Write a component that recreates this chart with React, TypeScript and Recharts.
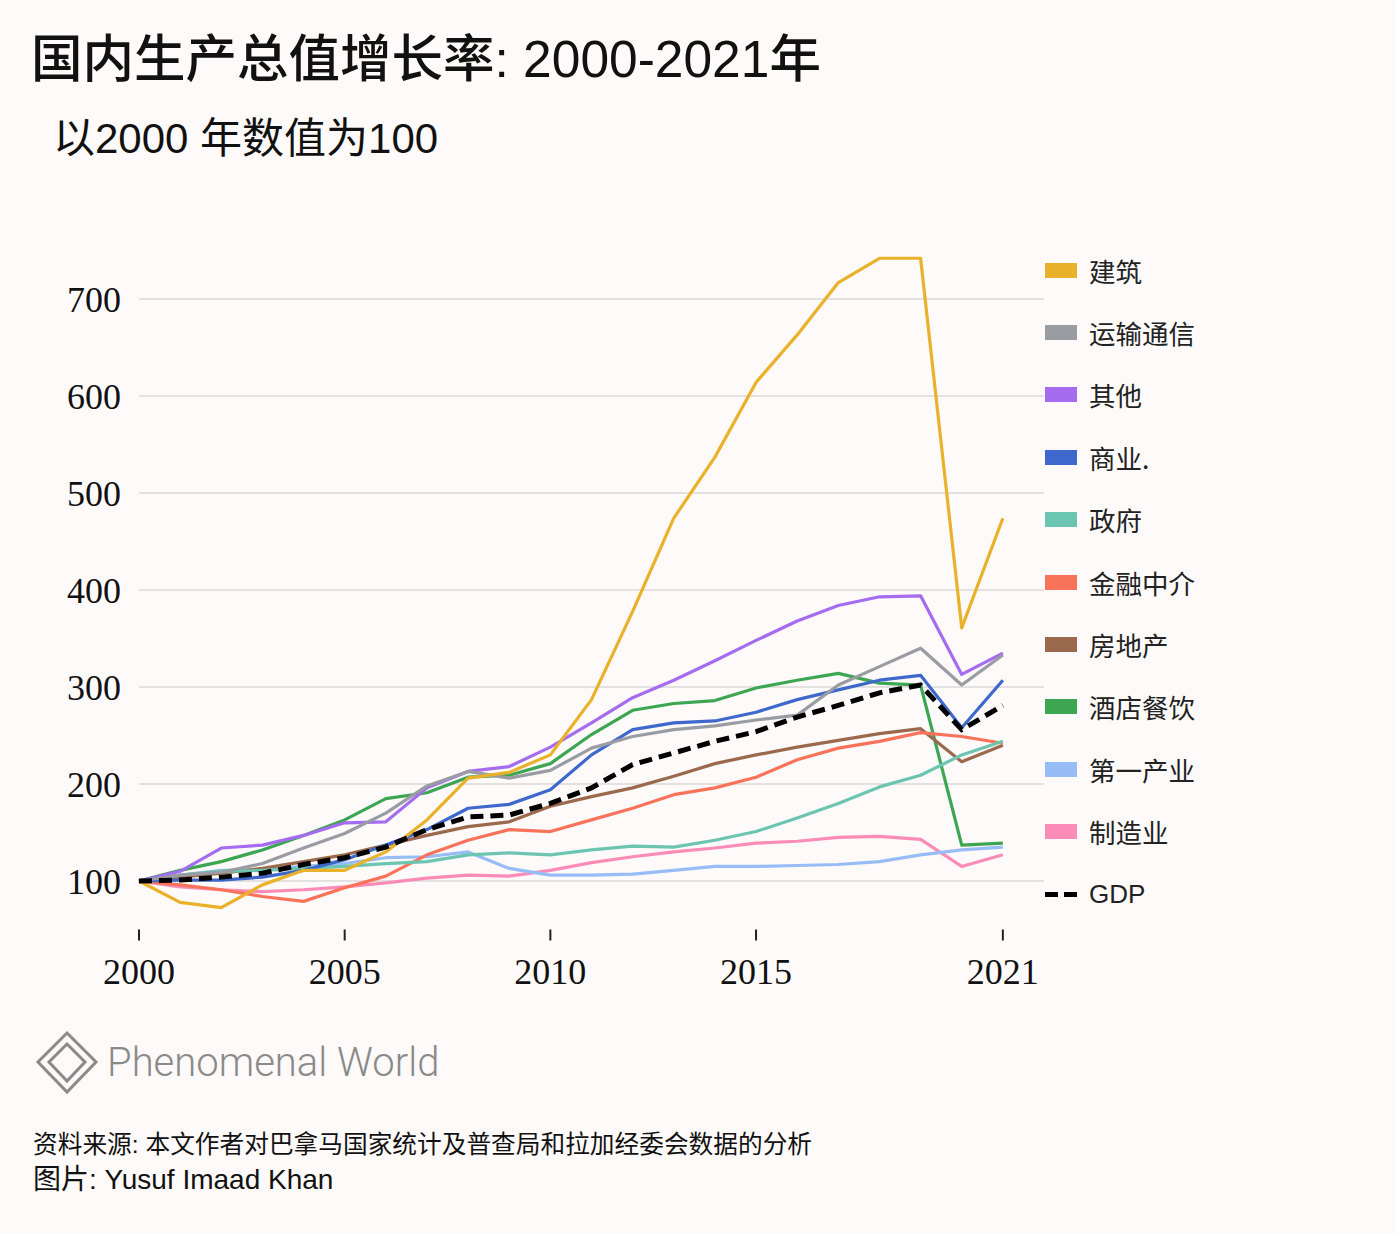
import React from 'react';
import { LineChart, Line, XAxis, YAxis, CartesianGrid } from 'recharts';

const years = [2000, 2001, 2002, 2003, 2004, 2005, 2006, 2007, 2008, 2009, 2010, 2011, 2012, 2013, 2014, 2015, 2016, 2017, 2018, 2019, 2020, 2021];

const construction = [100, 78, 72.5, 96, 111, 111, 130, 163, 206, 212, 230, 287, 378, 474, 537, 614, 663, 717, 742, 742, 361, 474];
const transport = [100, 106, 109, 118, 134, 149, 170, 198, 213, 206, 214, 237, 249, 256, 260, 266, 271, 302, 321, 340, 302, 333];
const other = [100, 110, 134, 137, 147, 160, 161, 196, 213, 218, 238, 263, 289, 307, 327, 348, 368, 384, 393, 394, 313, 335];
const commerce = [100, 101, 101, 104, 111, 122, 137, 153, 175, 179, 194, 230, 256, 263, 265, 274, 287, 297, 307, 312, 258, 307];
const government = [100, 106, 110, 111, 113, 115, 118, 120, 127, 129, 127, 132, 136, 135, 142, 151, 165, 180, 197, 209, 230, 244];
const finance = [100, 96, 91, 84, 79, 93, 105, 127, 142, 153, 151, 163, 175, 189, 196, 207, 225, 237, 244, 253, 249, 242];
const realEstate = [100, 104, 108, 113, 120, 127, 137, 147, 156, 161, 177, 187, 196, 208, 221, 230, 238, 245, 252, 257, 223, 240];
const hotels = [100, 111, 120, 132, 147, 163, 185, 191, 207, 209, 221, 251, 276, 283, 286, 299, 307, 314, 304, 302, 137, 139];
const primary = [100, 106, 111, 112, 115, 118, 124, 125, 130, 113, 106, 106, 107, 111, 115, 115, 116, 117, 120, 127, 132, 135];
const manufacturing = [100, 94, 91, 89, 91, 94, 98, 103, 106, 105, 111, 119, 125, 130, 134, 139, 141, 145, 146, 143, 115, 127];
const gdp = [100, 101, 104, 108, 117, 124, 135, 153, 166, 168, 180, 196, 220, 232, 244, 254, 269, 281, 294, 302, 256, 281];

const xTicks = [2000, 2005, 2010, 2015, 2021];
const yTicks = [100, 200, 300, 400, 500, 600, 700];

const series = [
  { key: 'construction', name: '建筑', color: '#eab12b', values: construction },
  { key: 'transport', name: '运输通信', color: '#9a9ca3', values: transport },
  { key: 'other', name: '其他', color: '#a66cef', values: other },
  { key: 'commerce', name: '商业.', color: '#3f68cd', values: commerce },
  { key: 'government', name: '政府', color: '#6cc5b0', values: government },
  { key: 'finance', name: '金融中介', color: '#f9735a', values: finance },
  { key: 'realEstate', name: '房地产', color: '#9b6a4e', values: realEstate },
  { key: 'hotels', name: '酒店餐饮', color: '#3ca653', values: hotels },
  { key: 'primary', name: '第一产业', color: '#98bcf5', values: primary },
  { key: 'manufacturing', name: '制造业', color: '#fb8cb8', values: manufacturing },
];

const data = years.map((y, i) => {
  const row: any = { year: y, gdp: gdp[i] };
  series.forEach((s) => { row[s.key] = s.values[i]; });
  return row;
});

const BG = '#fdfaf9';
const SANS = '"Noto Sans CJK SC", "Noto Sans", sans-serif';
const MIX = '"Liberation Sans", "Noto Sans CJK SC", sans-serif';

const gridGen = (props: any) => {
  const scale = props?.yAxis?.scale;
  if (scale && typeof scale === 'function') return yTicks.map((t) => scale(t));
  if (scale && typeof scale.map === 'function') return yTicks.map((t) => scale.map(t));
  return [];
};

export default function App() {
  const drawOrder = [...series].reverse();
  return (
    <div style={{ position: 'absolute', left: 0, top: 0, width: 1396, height: 1234, background: BG, overflow: 'hidden' }}>
      <div style={{ position: 'absolute', left: 31, top: 34, fontFamily: MIX, fontSize: 51.5, fontWeight: 500, lineHeight: 1, color: '#111', whiteSpace: 'nowrap' }}>
        国内生产总值增长率: 2000-2021年
      </div>
      <div style={{ position: 'absolute', left: 53, top: 118, fontFamily: MIX, fontSize: 42, fontWeight: 400, lineHeight: 1, color: '#111', whiteSpace: 'nowrap' }}>
        以2000 年数值为100
      </div>

      <div style={{ position: 'absolute', left: 0, top: 0 }}>
        <LineChart width={1396} height={1234} data={data} margin={{ top: 250.5, right: 352, bottom: 244.5, left: 0 }}>
          <CartesianGrid vertical={false} stroke="#e4e2e1" strokeWidth={2} horizontalCoordinatesGenerator={gridGen} />
          <XAxis
            dataKey="year"
            type="number"
            domain={[2000, 2022]}
            ticks={xTicks}
            axisLine={false}
            tickLine={{ stroke: '#222', strokeWidth: 2 }}
            tickSize={11}
            tickMargin={18}
            height={60}
            tick={{ fontFamily: '"Liberation Serif", serif', fontSize: 36, fill: '#111' }}
            interval={0}
          />
          <YAxis
            type="number"
            domain={[50, 750]}
            ticks={yTicks}
            axisLine={false}
            tickLine={false}
            tickSize={0}
            tickMargin={18}
            width={139}
            tick={{ fontFamily: '"Liberation Serif", serif', fontSize: 36, fill: '#111' }}
            interval={0}
          />
          {drawOrder.map((s) => (
            <Line key={s.key} dataKey={s.key} type="linear" stroke={s.color} strokeWidth={3.2} dot={false} isAnimationActive={false} strokeLinejoin="round" />
          ))}
          <Line dataKey="gdp" type="linear" stroke="#000" strokeWidth={5} strokeDasharray="13 7" dot={false} isAnimationActive={false} />
        </LineChart>
      </div>

      {series.map((s, i) => (
        <div key={s.key} style={{ position: 'absolute', left: 1045, top: 270 + i * 62.4 - 20, height: 40, display: 'flex', alignItems: 'center' }}>
          <div style={{ width: 32, height: 15, background: s.color }} />
          <div style={{ marginLeft: 12, fontFamily: SANS, fontSize: 26.5, color: '#222', whiteSpace: 'nowrap' }}>{s.name}</div>
        </div>
      ))}
      <div style={{ position: 'absolute', left: 1045, top: 894 - 20, height: 40, display: 'flex', alignItems: 'center' }}>
        <div style={{ width: 13, height: 5, background: '#000' }} />
        <div style={{ width: 6, height: 5 }} />
        <div style={{ width: 13, height: 5, background: '#000' }} />
        <div style={{ marginLeft: 12, fontFamily: MIX, fontSize: 26, color: '#222' }}>GDP</div>
      </div>

      <svg style={{ position: 'absolute', left: 0, top: 1020 }} width={110} height={90}>
        <polygon points="67,13 96,42 67,72 38,42" fill="none" stroke="#8a8a8a" strokeWidth={3} />
        <polygon points="67,24 85,42 67,61 49,42" fill="none" stroke="#8a8a8a" strokeWidth={3} />
      </svg>
      <div style={{ position: 'absolute', left: 107, top: 1043, fontFamily: 'Roboto, sans-serif', fontWeight: 300, fontSize: 40, lineHeight: 1, color: '#8a8a8a', whiteSpace: 'nowrap' }}>
        Phenomenal World
      </div>

      <div style={{ position: 'absolute', left: 33, top: 1131, fontFamily: MIX, fontSize: 24.7, lineHeight: 1.15, color: '#111', whiteSpace: 'nowrap' }}>
        资料来源: 本文作者对巴拿马国家统计及普查局和拉加经委会数据的分析
      </div>
      <div style={{ position: 'absolute', left: 33, top: 1164, fontFamily: MIX, fontSize: 28, lineHeight: 1.15, color: '#111', whiteSpace: 'nowrap' }}>
        图片: Yusuf Imaad Khan
      </div>
    </div>
  );
}
